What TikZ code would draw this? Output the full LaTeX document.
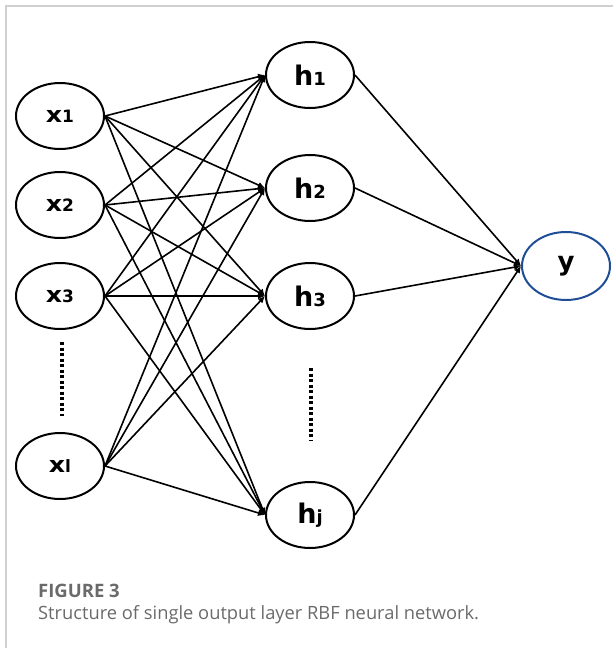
\documentclass[tikz,border=0pt]{standalone}
\usepackage{graphicx}
\usepackage{fontspec}
\setmainfont{DejaVu Sans}
\newfontfamily\capfont{Open Sans}
\usetikzlibrary{shapes.geometric,arrows.meta}
\definecolor{ybl}{HTML}{1F4E96}
\definecolor{capgray}{HTML}{6A6A6A}
\definecolor{framegray}{HTML}{D0D0D0}
\newcommand{\nlab}[2]{{\fontsize{27}{27}\selectfont\bfseries #1}{\fontsize{18}{18}\selectfont\bfseries #2}}
\newcommand{\xlab}[1]{\scalebox{1.15}[1]{\fontsize{22}{22}\selectfont\bfseries x}{\fontsize{17}{17}\selectfont\bfseries #1}}
\begin{document}
\begin{tikzpicture}[x=1pt,y=-1pt,
  neuron/.style={ellipse,draw,line width=2pt,minimum width=88pt,minimum height=66pt,inner sep=0pt},
  conn/.style={line width=1.6pt,-{Latex[length=7pt,width=6.5pt]}},
  vdots/.style={line width=3.5pt,dash pattern=on 3.2pt off 2.3pt}]
\useasboundingbox (0,0) rectangle (613,648);
\draw[framegray,line width=1.5pt] (6,648) -- (6,6) -- (613,6);
% input layer
\node[neuron] (x1) at (60,116) {\xlab{1}};
\node[neuron] (x2) at (60,205) {\xlab{2}};
\node[neuron] (x3) at (60,296) {\xlab{3}};
\node[neuron] (xl) at (60,466) {\xlab{l}};
% hidden layer
\node[neuron] (h1) at (310,75) {\nlab{h}{1}};
\node[neuron] (h2) at (310,188) {\nlab{h}{2}};
\node[neuron] (h3) at (310,296) {\nlab{h}{3}};
\node[neuron] (hj) at (310,515) {\nlab{h}{j}};
% output
\node[neuron,draw=ybl,minimum height=68pt] (y) at (566,266) {{\fontsize{26}{26}\selectfont\bfseries y}};
% dots
\coordinate (xdA) at (62,342);
\coordinate (xdB) at (62,416);
\coordinate (hdA) at (311,368);
\coordinate (hdB) at (311,441);
\draw[vdots] (xdA) -- (xdB);
\draw[vdots] (hdA) -- (hdB);
% connections
\foreach \i in {x1,x2,x3,xl}{
  \foreach \j in {h1,h2,h3,hj}{
    \draw[conn] (\i.east) -- (\j.west);
  }
}
\foreach \j in {h1,h2,h3,hj}{
  \draw[conn] (\j.east) -- (y.west);
}
% caption
\node[anchor=base west,inner sep=0pt,text=capgray] (fig) at (38,597) {\capfont\bfseries\fontsize{18.5}{18.5}\selectfont FIGURE 3};
\node[anchor=base west,inner sep=0pt,text=capgray] (cap) at (38,619) {\capfont\fontsize{18.3}{18.3}\selectfont Structure of single output layer RBF neural network.};
\end{tikzpicture}
\end{document}
